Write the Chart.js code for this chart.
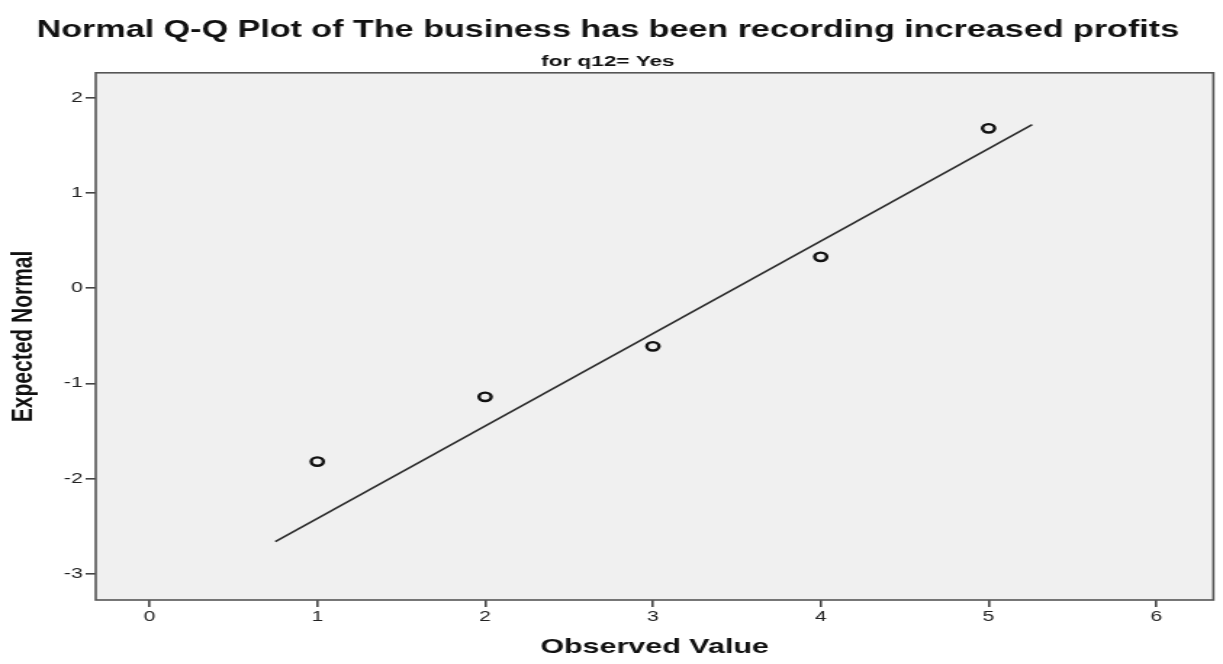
<!DOCTYPE html>
<html>
<head>
<meta charset="utf-8">
<script src="https://cdn.jsdelivr.net/npm/chart.js@4/dist/chart.umd.min.js"></script>
<style>
  html, body { margin: 0; padding: 0; background: #ffffff; overflow: hidden; }
  #wrap { width: 1223px; height: 664px; position: relative; }
  /* the chart is drawn narrower and widened horizontally to get the wide lettering and oval markers */
  #qq { position: absolute; left: 0; top: 0; transform-origin: 0 0; }
</style>
</head>
<body>
<div id="wrap"><canvas id="qq"></canvas></div>
<script>
// Observed values and their expected normal scores
const observedValues = [1, 2, 3, 4, 5];
const expectedNormal = [-1.82, -1.14, -0.61, 0.33, 1.68];

// Reference line end points (x, y)
const lineX = [0.75, 5.26];
const lineY = [-2.66, 1.72];

// Axis ticks
const xTicks = [0, 1, 2, 3, 4, 5, 6];
const yTicks = [-3, -2, -1, 0, 1, 2];

const chartTitle = 'Normal Q-Q Plot of The business has been recording increased profits';
const chartSubtitle = 'for q12= Yes';
const xTitle = 'Observed Value';
const yTitle = 'Expected Normal';

const STRETCH = 1.45;
const W = Math.round(1223 / STRETCH);
const H = 664;

const canvas = document.getElementById('qq');
canvas.width = W;
canvas.height = H;
canvas.style.width = W + 'px';
canvas.style.height = H + 'px';
canvas.style.transform = 'scaleX(' + (1223 / W) + ')';

const plotBg = {
  id: 'plotBg',
  beforeDraw(chart) {
    const { ctx, chartArea: a } = chart;
    ctx.save();
    ctx.fillStyle = '#f0f0f0';
    ctx.fillRect(a.left, a.top, a.right - a.left, a.bottom - a.top);
    ctx.restore();
  },
  afterDatasetsDraw(chart) {
    const { ctx, chartArea: a } = chart;
    ctx.save();
    ctx.strokeStyle = '#555555';
    ctx.lineWidth = 1.6;
    ctx.strokeRect(a.left, a.top, a.right - a.left, a.bottom - a.top);
    ctx.restore();
  }
};

const FONT = "'Liberation Sans', Arial, sans-serif";

new Chart(canvas, {
  type: 'scatter',
  data: {
    datasets: [
      {
        label: 'Expected Normal',
        data: observedValues.map((v, i) => ({ x: v, y: expectedNormal[i] })),
        pointRadius: 4.2,
        pointBorderWidth: 2.4,
        pointBorderColor: '#111111',
        pointBackgroundColor: 'rgba(0,0,0,0)',
        showLine: false
      },
      {
        label: 'Line',
        type: 'line',
        data: lineX.map((v, i) => ({ x: v, y: lineY[i] })),
        borderColor: '#2a2a2a',
        borderWidth: 1.6,
        pointRadius: 0,
        fill: false
      }
    ]
  },
  options: {
    responsive: false,
    animation: false,
    devicePixelRatio: 1,
    layout: { padding: { left: 0, right: W - Math.round(1215 / STRETCH), top: 0, bottom: 0 } },
    plugins: {
      legend: { display: false },
      tooltip: { enabled: false },
      title: {
        display: true,
        text: chartTitle,
        color: '#111111',
        font: { family: FONT, size: 23.5, weight: 'bold' },
        padding: { top: 16, bottom: 8 }
      },
      subtitle: {
        display: true,
        text: chartSubtitle,
        color: '#111111',
        font: { family: FONT, size: 15.5, weight: 'bold' },
        padding: { top: 0, bottom: 2 }
      }
    },
    scales: {
      x: {
        type: 'linear',
        min: -0.32,
        max: 6.34,
        afterBuildTicks(scale) { scale.ticks = xTicks.map(v => ({ value: v })); },
        afterFit(scale) { scale.height = 64; },
        border: { display: false },
        grid: { drawOnChartArea: false, drawTicks: true, tickLength: 7, color: '#444444', lineWidth: 1.6 },
        ticks: { color: '#222222', font: { family: FONT, size: 14.5 }, padding: 1, maxRotation: 0 },
        title: { display: true, text: xTitle, color: '#111111', font: { family: FONT, size: 21, weight: 'bold' }, padding: { top: 9 } }
      },
      y: {
        type: 'linear',
        min: -3.274,
        max: 2.263,
        afterBuildTicks(scale) { scale.ticks = yTicks.map(v => ({ value: v })); },
        afterFit(scale) { scale.width = Math.round(96 / STRETCH); },
        border: { display: false },
        grid: { drawOnChartArea: false, drawTicks: true, tickLength: 7, color: '#444444', lineWidth: 1.6 },
        ticks: { color: '#222222', font: { family: FONT, size: 14.5 }, padding: 2 },
        title: { display: true, text: yTitle, color: '#111111', font: { family: FONT, size: 21, weight: 'bold' }, padding: { bottom: 4 } }
      }
    }
  },
  plugins: [plotBg]
});
</script>
</body>
</html>
